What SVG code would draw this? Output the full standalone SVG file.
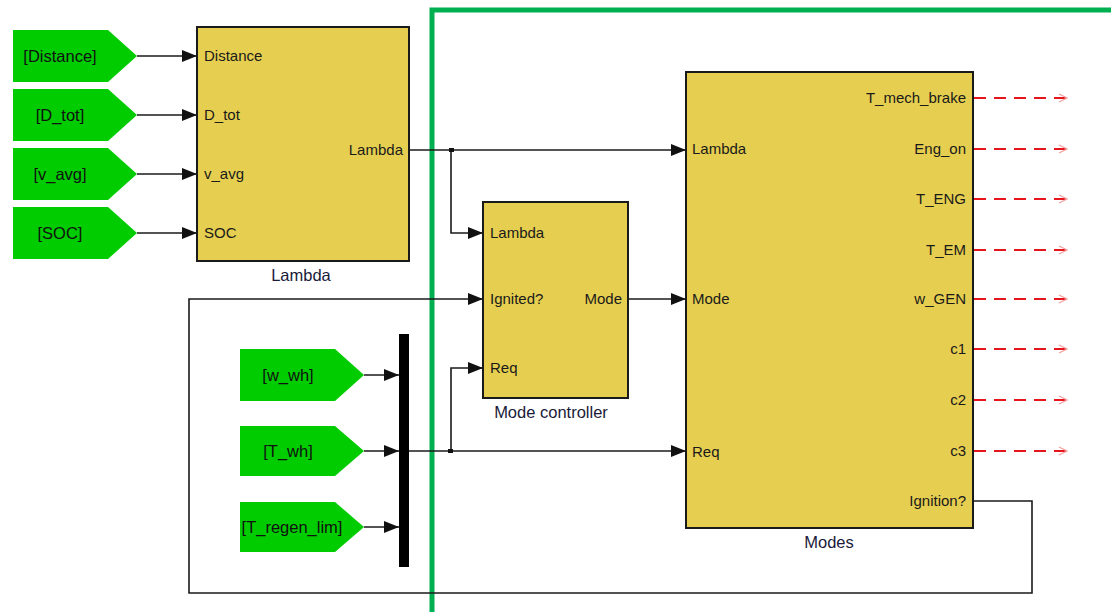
<svg xmlns="http://www.w3.org/2000/svg" width="1111" height="612" viewBox="0 0 1111 612">
<defs>
<style>
.blk{fill:#E6CF50;stroke:#1a1a1a;stroke-width:2}
.goto{fill:#00CC00;stroke:none}
.gt{font-family:"Liberation Sans",Arial,sans-serif;font-size:16.5px;fill:#111;text-anchor:middle}
.pl{font-family:"Liberation Sans",Arial,sans-serif;font-size:15px;fill:#1a1a1a}
.pr{font-family:"Liberation Sans",Arial,sans-serif;font-size:15px;fill:#1a1a1a;text-anchor:end}
.bn{font-family:"Liberation Sans",Arial,sans-serif;font-size:16.5px;fill:#1a1a3a;text-anchor:middle}
.w{fill:none;stroke:#1a1a1a;stroke-width:1.6}
.r{fill:none;stroke:#E8141C;stroke-width:2;stroke-dasharray:12 8}
</style>
<marker id="ah" markerWidth="15" markerHeight="12" refX="15" refY="6" orient="auto" markerUnits="userSpaceOnUse">
<path d="M0,0 L15,6 L0,12 Z" fill="#111"/>
</marker>
<marker id="oh" markerWidth="10" markerHeight="10" refX="9" refY="5" orient="auto" markerUnits="userSpaceOnUse">
<path d="M1,1 L9,5 L1,9" fill="none" stroke="#F2A0A0" stroke-width="1.2"/>
</marker>
</defs>
<rect width="1111" height="612" fill="#fff"/>

<g id="frame">
<path d="M432,616 L432,10 L1115,10" fill="none" stroke="#00B050" stroke-width="5"/>
</g>

<g id="connectors">
<path class="w" d="M137,56 L197,56" marker-end="url(#ah)"/>
<path class="w" d="M137,115 L197,115" marker-end="url(#ah)"/>
<path class="w" d="M137,174 L197,174" marker-end="url(#ah)"/>
<path class="w" d="M137,233 L197,233" marker-end="url(#ah)"/>
<path class="w" d="M409,150 L686,150" marker-end="url(#ah)"/>
<path class="w" d="M451,150 L451,233 L483,233" marker-end="url(#ah)"/>
<path class="w" d="M628,299 L686,299" marker-end="url(#ah)"/>
<path class="w" d="M364,375 L399,375" marker-end="url(#ah)"/>
<path class="w" d="M364,451 L399,451" marker-end="url(#ah)"/>
<path class="w" d="M364,527 L399,527" marker-end="url(#ah)"/>
<path class="w" d="M409,451 L686,451" marker-end="url(#ah)"/>
<path class="w" d="M451,451 L451,368 L483,368" marker-end="url(#ah)"/>
<path class="w" d="M973,501 L1032,501 L1032,593 L189,593 L189,299 L483,299" marker-end="url(#ah)"/>
<rect x="449" y="148" width="5" height="4" fill="#111"/>
<rect x="448" y="449" width="5" height="4" fill="#111"/>
<path class="r" d="M974,98 L1067,98" marker-end="url(#oh)"/>
<path class="r" d="M974,149 L1067,149" marker-end="url(#oh)"/>
<path class="r" d="M974,199 L1067,199" marker-end="url(#oh)"/>
<path class="r" d="M974,250 L1067,250" marker-end="url(#oh)"/>
<path class="r" d="M974,299 L1067,299" marker-end="url(#oh)"/>
<path class="r" d="M974,349 L1067,349" marker-end="url(#oh)"/>
<path class="r" d="M974,400 L1067,400" marker-end="url(#oh)"/>
<path class="r" d="M974,451 L1067,451" marker-end="url(#oh)"/>
</g>

<g id="goto_distance">
<path class="goto" d="M13,30 L108,30 L137,56 L108,82 L13,82 Z"/>
<text class="gt" x="60" y="62">[Distance]</text>
</g>
<g id="goto_dtot">
<path class="goto" d="M13,89 L108,89 L137,115 L108,141 L13,141 Z"/>
<text class="gt" x="60" y="121">[D_tot]</text>
</g>
<g id="goto_vavg">
<path class="goto" d="M13,148 L108,148 L137,174 L108,200 L13,200 Z"/>
<text class="gt" x="60" y="180">[v_avg]</text>
</g>
<g id="goto_soc">
<path class="goto" d="M13,207 L108,207 L137,233 L108,259 L13,259 Z"/>
<text class="gt" x="60" y="239">[SOC]</text>
</g>

<g id="lambda_block">
<rect class="blk" x="197" y="27" width="212" height="234"/>
<text class="pl" x="204" y="61">Distance</text>
<text class="pl" x="204" y="120">D_tot</text>
<text class="pl" x="204" y="179">v_avg</text>
<text class="pl" x="204" y="238">SOC</text>
<text class="pr" x="403" y="155">Lambda</text>
<text class="bn" x="301" y="281">Lambda</text>
</g>

<g id="goto_wwh">
<path class="goto" d="M240,349 L335,349 L364,375 L335,401 L240,401 Z"/>
<text class="gt" x="288" y="381">[w_wh]</text>
</g>
<g id="goto_twh">
<path class="goto" d="M240,426 L335,426 L364,451 L335,476 L240,476 Z"/>
<text class="gt" x="288" y="457">[T_wh]</text>
</g>
<g id="goto_tregen">
<path class="goto" d="M240,502 L335,502 L364,527 L335,552 L240,552 Z"/>
<text class="gt" x="292" y="533">[T_regen_lim]</text>
</g>

<g id="mux">
<rect x="399" y="334" width="10" height="233" fill="#000"/>
</g>

<g id="mode_controller">
<rect class="blk" x="483" y="202" width="145" height="196"/>
<text class="pl" x="490" y="238">Lambda</text>
<text class="pl" x="490" y="304">Ignited?</text>
<text class="pl" x="490" y="373">Req</text>
<text class="pr" x="622" y="304">Mode</text>
<text class="bn" x="551" y="418">Mode controller</text>
</g>

<g id="modes">
<rect class="blk" x="686" y="72" width="287" height="456"/>
<text class="pl" x="692" y="154">Lambda</text>
<text class="pl" x="692" y="304">Mode</text>
<text class="pl" x="692" y="457">Req</text>
<text class="pr" x="966" y="103">T_mech_brake</text>
<text class="pr" x="966" y="154">Eng_on</text>
<text class="pr" x="966" y="204">T_ENG</text>
<text class="pr" x="966" y="255">T_EM</text>
<text class="pr" x="966" y="304">w_GEN</text>
<text class="pr" x="966" y="354">c1</text>
<text class="pr" x="966" y="405">c2</text>
<text class="pr" x="966" y="456">c3</text>
<text class="pr" x="966" y="506">Ignition?</text>
<text class="bn" x="829" y="548">Modes</text>
</g>
</svg>
